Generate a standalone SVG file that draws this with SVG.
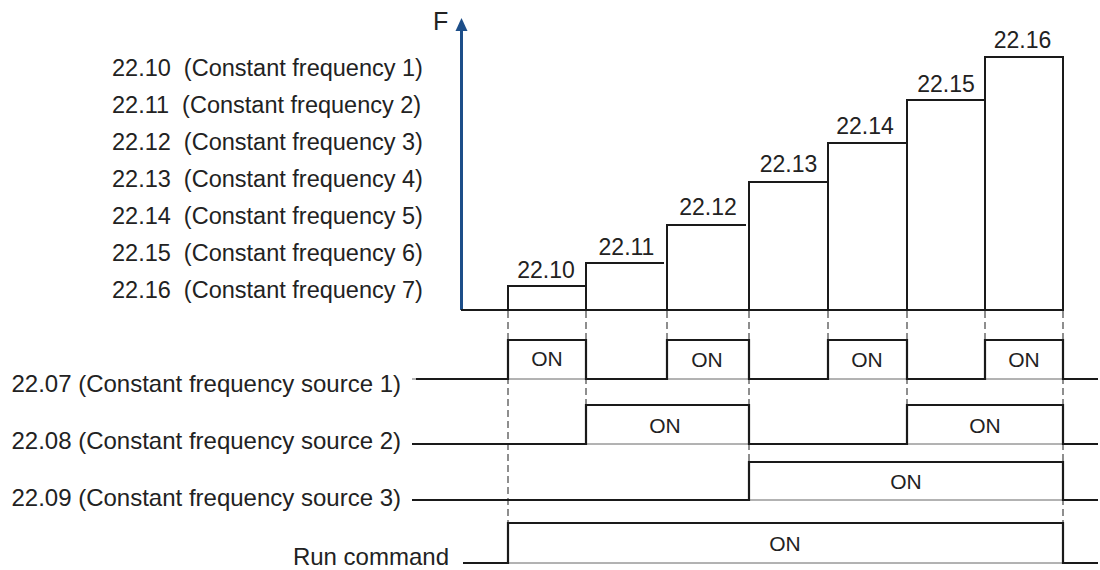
<svg xmlns="http://www.w3.org/2000/svg" width="1100" height="570" viewBox="0 0 1100 570">
  <style>
    text { font-family: "Liberation Sans", Arial, sans-serif; fill: #222; }
    .lbl { font-size: 23.5px; }
    .sig { font-size: 24px; text-anchor: end; }
    .val { font-size: 23px; text-anchor: middle; }
    .on { font-size: 21px; text-anchor: middle; }
    .col { fill: none; stroke: #1a1a1a; stroke-width: 2; }
    .wave { fill: none; stroke: #1a1a1a; stroke-width: 2.2; stroke-linejoin: miter; }
    .base { fill: none; stroke: #666; stroke-width: 1; }
    .dash { fill: none; stroke: #444; stroke-width: 1.2; stroke-dasharray: 7 4; }
  </style>
  <rect width="1100" height="570" fill="#fff"/>

  <g id="param-labels">
    <text class="lbl" x="112" y="76">22.10&#160; (Constant frequency 1)</text>
    <text class="lbl" x="112" y="113">22.11&#160; (Constant frequency 2)</text>
    <text class="lbl" x="112" y="150">22.12&#160; (Constant frequency 3)</text>
    <text class="lbl" x="112" y="187">22.13&#160; (Constant frequency 4)</text>
    <text class="lbl" x="112" y="224">22.14&#160; (Constant frequency 5)</text>
    <text class="lbl" x="112" y="261">22.15&#160; (Constant frequency 6)</text>
    <text class="lbl" x="112" y="298">22.16&#160; (Constant frequency 7)</text>
  </g>

  <g id="axis">
    <line x1="461.5" y1="310" x2="461.5" y2="24" stroke="#1d4e89" stroke-width="3"/>
    <path d="M455.5,31 L461.5,18 L467.5,31 Z" fill="#1d4e89"/>
    <text x="433" y="30" style="font-size:25px">F</text>
    <line x1="461" y1="310" x2="1064" y2="310" stroke="#1a1a1a" stroke-width="2"/>
  </g>

  <g id="step-2210">
    <path class="col" d="M508,310 V286 H586"/>
    <text class="val" x="546" y="278">22.10</text>
  </g>
  <g id="step-2211">
    <path class="col" d="M586,310 V263 H664"/>
    <text class="val" x="626.5" y="255">22.11</text>
  </g>
  <g id="step-2212">
    <path class="col" d="M667,310 V225 H746"/>
    <text class="val" x="708" y="215">22.12</text>
  </g>
  <g id="step-2213">
    <path class="col" d="M749,310 V182 H828"/>
    <text class="val" x="788.5" y="172">22.13</text>
  </g>
  <g id="step-2214">
    <path class="col" d="M828,310 V143 H907"/>
    <text class="val" x="865" y="134">22.14</text>
  </g>
  <g id="step-2215">
    <path class="col" d="M907,310 V100 H985"/>
    <text class="val" x="946" y="92">22.15</text>
  </g>
  <g id="step-2216">
    <path class="col" d="M985,310 V57 H1063 V310"/>
    <text class="val" x="1022.5" y="48">22.16</text>
  </g>

  <g id="connectors">
    <line class="dash" x1="508" y1="311" x2="508" y2="523"/>
    <line class="dash" x1="586" y1="311" x2="586" y2="405"/>
    <line class="dash" x1="667" y1="311" x2="667" y2="340"/>
    <line class="dash" x1="749" y1="311" x2="749" y2="462"/>
    <line class="dash" x1="828" y1="311" x2="828" y2="340"/>
    <line class="dash" x1="907" y1="311" x2="907" y2="405"/>
    <line class="dash" x1="985" y1="311" x2="985" y2="340"/>
    <line class="dash" x1="1063" y1="311" x2="1063" y2="523"/>
  </g>

  <g id="signal-2207">
    <text class="sig" x="401" y="392">22.07 (Constant frequency source 1)</text>
    <line class="base" x1="412" y1="379" x2="1098" y2="379"/>
    <path class="wave" d="M416,379 H508 V340 H586 V379 H667 V340 H749 V379 H828 V340 H907 V379 H985 V340 H1063 V379 H1098"/>
    <text class="on" x="547" y="366">ON</text>
    <text class="on" x="707" y="367">ON</text>
    <text class="on" x="867" y="367">ON</text>
    <text class="on" x="1024" y="367">ON</text>
  </g>

  <g id="signal-2208">
    <text class="sig" x="401" y="449">22.08 (Constant frequency source 2)</text>
    <line class="base" x1="412" y1="444" x2="1098" y2="444"/>
    <path class="wave" d="M412,444 H586 V405 H749 V444 H907 V405 H1063 V444 H1098"/>
    <text class="on" x="665" y="433">ON</text>
    <text class="on" x="985" y="433">ON</text>
  </g>

  <g id="signal-2209">
    <text class="sig" x="401" y="506">22.09 (Constant frequency source 3)</text>
    <line class="base" x1="412" y1="500" x2="1098" y2="500"/>
    <path class="wave" d="M412,500 H749 V462 H1063 V500 H1098"/>
    <text class="on" x="906" y="489">ON</text>
  </g>

  <g id="signal-run">
    <text class="sig" x="449" y="565">Run command</text>
    <line class="base" x1="463" y1="563" x2="1098" y2="563"/>
    <path class="wave" d="M463,563 H508 V523 H1063 V563 H1098"/>
    <text class="on" x="785" y="551">ON</text>
  </g>
</svg>
